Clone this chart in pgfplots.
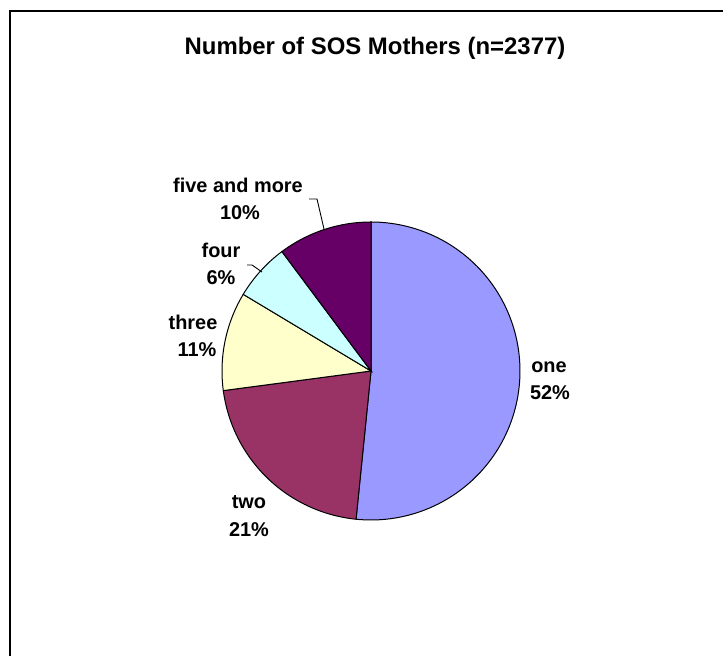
\documentclass[border=0pt]{standalone}
\usepackage{pgfplots}
\pgfplotsset{compat=1.18}
\usepackage{fontspec}
\setmainfont{Liberation Sans}
\definecolor{cone}{HTML}{9999FF}
\definecolor{ctwo}{HTML}{993366}
\definecolor{cthree}{HTML}{FFFFCC}
\definecolor{cfour}{HTML}{CCFFFF}
\definecolor{cfive}{HTML}{660066}
\begin{document}
\begin{tikzpicture}
\begin{axis}[
  scale only axis, width=723bp, height=656bp,
  xmin=0, xmax=723, ymin=0, ymax=656,
  hide axis, clip=false,
  every axis plot/.append style={no markers},
]
% slices (percent, clockwise from 12 o'clock): one 51.6, two 21.3, three 10.7, four 6.2, five and more 10.2
\addplot[fill=cone, draw=black, line width=1bp, domain=0:51.6, samples=120]
  ({371+149*cos(90-3.6*x)},{285+149*sin(90-3.6*x)}) -- (axis cs:371,285) -- cycle;
\addplot[fill=ctwo, draw=black, line width=1bp, domain=51.6:72.9, samples=60]
  ({371+149*cos(90-3.6*x)},{285+149*sin(90-3.6*x)}) -- (axis cs:371,285) -- cycle;
\addplot[fill=cthree, draw=black, line width=1bp, domain=72.9:83.6, samples=40]
  ({371+149*cos(90-3.6*x)},{285+149*sin(90-3.6*x)}) -- (axis cs:371,285) -- cycle;
\addplot[fill=cfour, draw=black, line width=1bp, domain=83.6:89.8, samples=30]
  ({371+149*cos(90-3.6*x)},{285+149*sin(90-3.6*x)}) -- (axis cs:371,285) -- cycle;
\addplot[fill=cfive, draw=black, line width=1bp, domain=89.8:100, samples=40]
  ({371+149*cos(90-3.6*x)},{285+149*sin(90-3.6*x)}) -- (axis cs:371,285) -- cycle;
% leader lines
\addplot[black, line width=0.9bp] coordinates {(309,457) (317,457) (324,427)};
\addplot[black, line width=0.9bp] coordinates {(247,391) (252,391) (262,384)};
% border
\addplot[black, line width=2bp] coordinates {(723,645) (10,645) (10,0)};
% title
\node[anchor=base, font=\fontsize{24}{28}\selectfont\bfseries, inner sep=0pt] at (axis cs:375,601) {Number of SOS Mothers (n=2377)};
% labels
\begin{scope}[every node/.style={anchor=base, inner sep=0pt, font=\fontsize{20}{27}\selectfont\bfseries}]
\node at (axis cs:549,283) {one};
\node at (axis cs:550,256) {52\%};
\node at (axis cs:249,147) {two};
\node at (axis cs:249,119) {21\%};
\node at (axis cs:193,326) {three};
\node at (axis cs:197,299) {11\%};
\node at (axis cs:221,398) {four};
\node at (axis cs:221,371) {6\%};
\node at (axis cs:238,463) {five and more};
\node at (axis cs:240,436) {10\%};
\end{scope}
\end{axis}
\pgfresetboundingbox
\path (0,0) rectangle (723bp,656bp);
\end{tikzpicture}
\end{document}
